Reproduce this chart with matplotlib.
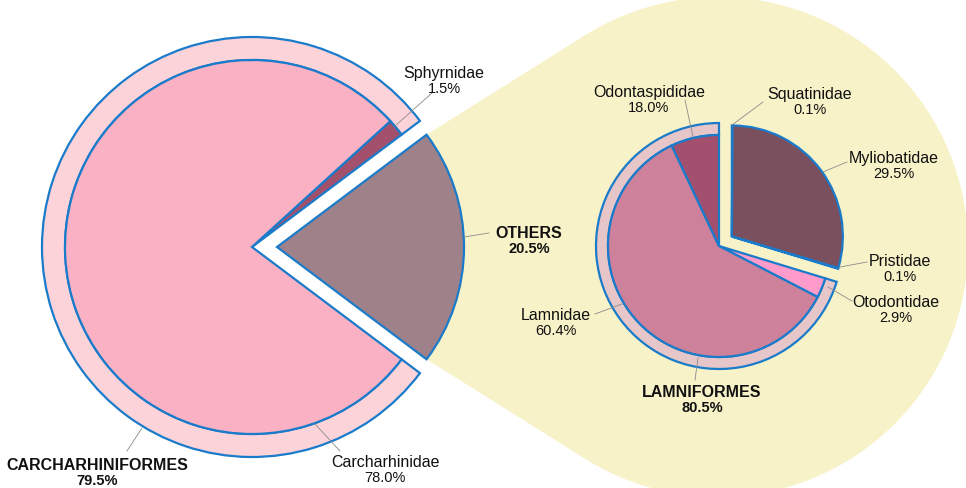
import numpy as np
import matplotlib.pyplot as plt
from matplotlib.patches import Circle, Polygon

plt.rcParams['font.family'] = ['Liberation Sans', 'DejaVu Sans']

W, H = 966, 489

# left pie: shares of all records (%)
order_names = ['CARCHARHINIFORMES', 'OTHERS']
order_pct = [79.5, 20.5]
family_names = ['Sphyrnidae', 'Carcharhinidae', 'OTHERS']
family_pct = [1.5, 78.0, 20.5]

# right pie: breakdown of OTHERS, shares as drawn (% of wedge angle)
sub_names = ['Squatinidae', 'Myliobatidae', 'Pristidae', 'Otodontidae', 'Lamnidae', 'Odontaspididae']
sub_share = [0.1, 29.5, 0.1, 2.9, 60.4, 7.0]
sub_labels = ['0.1%', '29.5%', '0.1%', '2.9%', '60.4%', '18.0%']
lamni_share = [29.7, 70.3]
lamni_label = '80.5%'

BLUE = '#1a7bca'
YELLOW = '#f8f2c8'
lw = 1.6


def Y(py):
    return H - py


fig = plt.figure(figsize=(W / 100, H / 100), dpi=100)
ax = fig.add_axes([0, 0, 1, 1])

# ---- left pie ----
c1 = (252, Y(248))
r1_in, r1_out = 187, 210
start1 = order_pct[1] * 3.6 / 2

outer, _ = ax.pie(order_pct, radius=r1_out, center=c1, startangle=start1,
                  colors=['#fdd3da', 'none'], frame=True,
                  wedgeprops=dict(width=r1_out - r1_in, edgecolor=BLUE, linewidth=lw))
outer[1].set_visible(False)

inner, _ = ax.pie(family_pct, radius=r1_in, center=c1, startangle=start1,
                  colors=['#a3506c', '#fbb1c4', '#9f818a'], explode=[0, 0, 25], frame=True,
                  wedgeprops=dict(edgecolor=BLUE, linewidth=lw))

# ---- yellow zoom region ----
c2px = (718, 248)
R2 = 250
circ = Circle((c2px[0], Y(c2px[1])), R2, facecolor=YELLOW, edgecolor='none', zorder=0)
ax.add_patch(circ)

# corners of the exploded OTHERS wedge
th = np.deg2rad(start1)
apex = np.array([c1[0] + 25, c1[1]])
p_top = apex + r1_in * np.array([np.cos(th), np.sin(th)])
p_bot = apex + r1_in * np.array([np.cos(-th), np.sin(-th)])
cc = np.array([c2px[0], Y(c2px[1])])


def tangent(p, sign):
    d = p - cc
    dist = np.hypot(*d)
    base = np.arctan2(d[1], d[0])
    a = base + sign * np.arccos(R2 / dist)
    return cc + R2 * np.array([np.cos(a), np.sin(a)])


t_top = tangent(p_top, -1)
t_bot = tangent(p_bot, 1)
ax.add_patch(Polygon([p_top, t_top, cc, t_bot, p_bot, apex], closed=True,
                     facecolor=YELLOW, edgecolor='none', zorder=0))

# ---- right pie ----
c2 = (719, Y(247))
r2_in, r2_out = 111, 123
sub_colors = ['#7a4f5e', '#7a4f5e', '#ff9bcb', '#ff9bcb', '#ce819b', '#a2506d']

ring, _ = ax.pie(lamni_share, radius=r2_out, center=c2, startangle=90, counterclock=False,
                 colors=['none', '#e6c6c8'], frame=True,
                 wedgeprops=dict(width=r2_out - r2_in, edgecolor=BLUE, linewidth=lw))
ring[0].set_visible(False)

lam, _ = ax.pie(sub_share, radius=r2_in, center=c2, startangle=90, counterclock=False,
                colors=sub_colors, frame=True,
                wedgeprops=dict(edgecolor=BLUE, linewidth=lw))
for w in lam[:3]:
    w.set_visible(False)

# non-lamniform group pulled out together
mid = np.deg2rad(90 - lamni_share[0] * 3.6 / 2)
c2e = (c2[0] + 16 * np.cos(mid), c2[1] + 16 * np.sin(mid))
grp, _ = ax.pie(sub_share, radius=r2_in, center=c2e, startangle=90, counterclock=False,
                colors=sub_colors, frame=True,
                wedgeprops=dict(edgecolor=BLUE, linewidth=lw))
for w in grp[3:]:
    w.set_visible(False)

ax.set_xlim(0, W)
ax.set_ylim(0, H)
ax.set_aspect('equal')
ax.axis('off')


# ---- labels ----
def label(name, pct, x, y, line, bold=False):
    fw = 'bold' if bold else 'normal'
    ax.text(x, Y(y), name, ha='center', va='center', fontsize=11.5, fontweight=fw, color='#111111', zorder=5)
    ax.text(x, Y(y + 15), pct, ha='center', va='center', fontsize=10.5, fontweight=fw, color='#111111', zorder=5)
    (x0, y0), (x1, y1) = line
    ax.plot([x0, x1], [Y(y0), Y(y1)], color='#8a8a8a', lw=0.6, zorder=4)


label(family_names[0], f'{family_pct[0]}%', 444, 74, [(395, 127), (432, 94)])
label(order_names[1], f'{order_pct[1]}%', 529, 234, [(464, 238), (489, 234)], bold=True)
label(order_names[0], f'{order_pct[0]}%', 97, 466, [(127, 452), (142, 429)], bold=True)
label(family_names[1], f'{family_pct[1]}%', 385, 463, [(340, 452), (315, 425)])
label(sub_names[5], sub_labels[5], 649, 93, [(685, 101), (693, 138)])
label(sub_names[0], sub_labels[0], 810, 95, [(763, 103), (732, 126)])
label(sub_names[1], sub_labels[1], 894, 159, [(847, 163), (823, 173)])
label(sub_names[2], sub_labels[2], 900, 262, [(867, 263), (840, 268)])
label(sub_names[3], sub_labels[3], 896, 303, [(852, 302), (828, 288)])
label(sub_names[4], sub_labels[4], 556, 316, [(595, 315), (622, 305)])
label('LAMNIFORMES', lamni_label, 702, 393, [(695, 381), (698, 359)], bold=True)

fig.savefig('out.png', dpi=100)
